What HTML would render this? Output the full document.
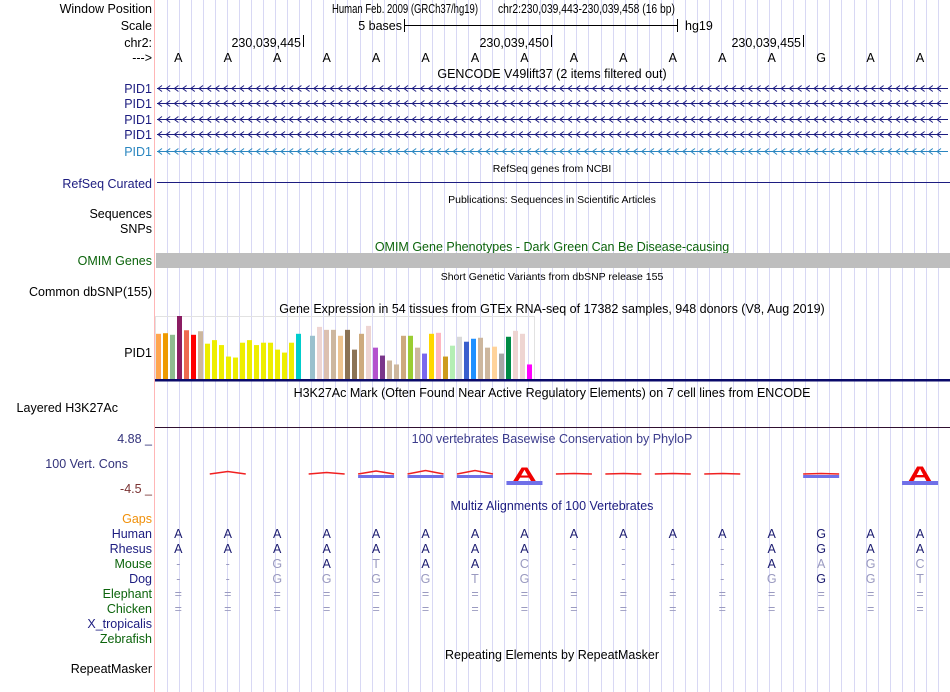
<!DOCTYPE html>
<html><head><meta charset="utf-8"><style>
html,body{margin:0;padding:0;background:#fff;}
svg{display:block;font-family:"Liberation Sans",Arial,sans-serif;}
</style></head><body>
<svg id="ucsc" width="950" height="692" viewBox="0 0 950 692">
<g id="grid"></g>
<line x1="154.5" y1="0" x2="154.5" y2="692" stroke="#ffb6b6" stroke-width="1"/>
<g font-size="12.5" text-anchor="end">
<text x="152" y="13" fill="#000">Window Position</text>
<text x="152" y="30" fill="#000">Scale</text>
<text x="152" y="47" fill="#000">chr2:</text>
<text x="152" y="62" fill="#000">---&gt;</text>
<text x="152" y="93" fill="#1c1c80">PID1</text>
<text x="152" y="108" fill="#1c1c80">PID1</text>
<text x="152" y="124" fill="#1c1c80">PID1</text>
<text x="152" y="139" fill="#1c1c80">PID1</text>
<text x="152" y="156" fill="#2a86c0">PID1</text>
<text x="152" y="188" fill="#1c1c80">RefSeq Curated</text>
<text x="152" y="218" fill="#000">Sequences</text>
<text x="152" y="233" fill="#000">SNPs</text>
<text x="152" y="265" fill="#0c640c">OMIM Genes</text>
<text x="152" y="296" fill="#000">Common dbSNP(155)</text>
<text x="152" y="357" fill="#000">PID1</text>
<text x="118" y="412" fill="#000">Layered H3K27Ac</text>
<text x="152" y="443" fill="#32327a">4.88 _</text>
<text x="128" y="468" fill="#32327a">100 Vert. Cons</text>
<text x="152" y="493" fill="#7a3232">-4.5 _</text>
<text x="152" y="523" fill="#f0900a">Gaps</text>
<text x="152" y="538" fill="#1c1c80">Human</text>
<text x="152" y="553" fill="#1c1c80">Rhesus</text>
<text x="152" y="568" fill="#0c640c">Mouse</text>
<text x="152" y="583" fill="#1c1c80">Dog</text>
<text x="152" y="598" fill="#0c640c">Elephant</text>
<text x="152" y="613" fill="#0c640c">Chicken</text>
<text x="152" y="628" fill="#1c1c80">X_tropicalis</text>
<text x="152" y="643" fill="#0c640c">Zebrafish</text>
<text x="152" y="673" fill="#000">RepeatMasker</text>
</g>
<g font-size="12.5" fill="#000">
<text x="332" y="13" font-size="12.5" textLength="146" lengthAdjust="spacingAndGlyphs">Human Feb. 2009 (GRCh37/hg19)</text>
<text x="498" y="13" font-size="12.5" textLength="177" lengthAdjust="spacingAndGlyphs">chr2:230,039,443-230,039,458 (16 bp)</text>
<text x="402" y="30" text-anchor="end">5 bases</text>
<line x1="404.5" y1="19" x2="404.5" y2="32" stroke="#000"/>
<line x1="404.5" y1="25.5" x2="677" y2="25.5" stroke="#000"/>
<line x1="677.5" y1="19" x2="677.5" y2="32" stroke="#000"/>
<text x="685" y="30">hg19</text>
<text x="301" y="47" text-anchor="end">230,039,445</text>
<line x1="303.5" y1="35" x2="303.5" y2="47" stroke="#000"/>
<text x="549" y="47" text-anchor="end">230,039,450</text>
<line x1="551.5" y1="35" x2="551.5" y2="47" stroke="#000"/>
<text x="801" y="47" text-anchor="end">230,039,455</text>
<line x1="803.5" y1="35" x2="803.5" y2="47" stroke="#000"/>
</g>
<g id="bases" font-size="12.5" text-anchor="middle"></g>
<g font-size="12.5" text-anchor="middle">
<text x="552" y="78" fill="#000">GENCODE V49lift37 (2 items filtered out)</text>
<text x="552" y="172" fill="#000" font-size="10.5">RefSeq genes from NCBI</text>
<text x="552" y="203" fill="#000" font-size="10.5">Publications: Sequences in Scientific Articles</text>
<text x="552" y="251" fill="#0c640c">OMIM Gene Phenotypes - Dark Green Can Be Disease-causing</text>
<text x="552" y="280" fill="#000" font-size="10.5">Short Genetic Variants from dbSNP release 155</text>
<text x="552" y="313" fill="#000">Gene Expression in 54 tissues from GTEx RNA-seq of 17382 samples, 948 donors (V8, Aug 2019)</text>
<text x="552" y="397" fill="#000">H3K27Ac Mark (Often Found Near Active Regulatory Elements) on 7 cell lines from ENCODE</text>
<text x="552" y="443" fill="#3c3c8c">100 vertebrates Basewise Conservation by PhyloP</text>
<text x="552" y="510" fill="#1c1c80">Multiz Alignments of 100 Vertebrates</text>
<text x="552" y="659" fill="#000">Repeating Elements by RepeatMasker</text>
</g>
<g id="genes"></g>
<line x1="157" y1="182.5" x2="950" y2="182.5" stroke="#1c1c80"/>
<rect x="156" y="253" width="794" height="15" fill="#bebebe"/>
<rect x="155.5" y="316.5" width="379" height="63" fill="none" stroke="#e2e2e2"/>
<g id="gtex"></g>
<rect x="155" y="379" width="795" height="2.5" fill="#0a0a6a"/>
<line x1="155" y1="427.5" x2="950" y2="427.5" stroke="#301030"/>
<g id="cons"></g>
<g id="multiz" font-size="12.5" text-anchor="middle"></g>
<script>
const NS='http://www.w3.org/2000/svg';
const refBases=['A','A','A','A','A','A','A','A','A','A','A','A','A','G','A','A'];
const species=['Human','Rhesus','Mouse','Dog','Elephant','Chicken'];
const rowY=[538,553,568,583,598,613];
const alignHuman ='AAAAAAAAAAAAAGAA';
const alignRhesus='AAAAAAAA----AGAA';
const alignMouse ='--GATAAC----AAGC';
const alignDog   ='--GGGGTG----GGGT';
const alignElephant='================';
const alignChicken='================';
const geneRowY=[88.5,103.5,119.5,134.5,151.5];
const geneColors=['#1c1c80','#1c1c80','#1c1c80','#1c1c80','#2a86c0'];
const gtexTissues=['Adipose-Subcutaneous','Adipose-Visceral','Adrenal','Artery-Aorta','Artery-Coronary','Artery-Tibial','Bladder','Brain-Amygdala','Brain-ACC','Brain-Caudate','Brain-Cerebellar','Brain-Cerebellum','Brain-Cortex','Brain-FrontalCortex','Brain-Hippocampus','Brain-Hypothalamus','Brain-NucleusAccumbens','Brain-Putamen','Brain-SpinalCord','Brain-SubstantiaNigra','Breast','Cells-EBV','Cells-Fibroblasts','Cervix-Ecto','Cervix-Endo','Colon-Sigmoid','Colon-Transverse','Esophagus-GEJ','Esophagus-Mucosa','Esophagus-Muscularis','FallopianTube','Heart-AtrialAppendage','Heart-LeftVentricle','Kidney-Cortex','Kidney-Medulla','Liver','Lung','MinorSalivaryGland','Muscle-Skeletal','Nerve-Tibial','Ovary','Pancreas','Pituitary','Prostate','Skin-NotSunExposed','Skin-SunExposed','SmallIntestine','Spleen','Stomach','Testis','Thyroid','Uterus','Vagina','WholeBlood'];
const gtexTpm=[45.7,46.3,44.7,63.7,49.3,44.7,48.3,35.7,39.3,34.3,22.7,21.7,36.7,39.3,34.3,36.7,36.7,29.7,26.7,36.7,45.7,0,43.7,52.7,49.7,49.7,43.7,49.7,29.7,45.7,53.7,31.7,23.7,18.7,14.7,43.7,43.7,31.7,25.7,45.7,46.7,22.7,33.7,42.7,37.7,40.7,41.7,31.7,32.7,25.7,42.7,48.7,45.7,14.7];
const gtexColors=['#FFA54F','#EE9A00','#8FBC8F','#8B1C62','#EE6A50','#FF0000','#CDB79E','#EEEE00','#EEEE00','#EEEE00','#EEEE00','#EEEE00','#EEEE00','#EEEE00','#EEEE00','#EEEE00','#EEEE00','#EEEE00','#EEEE00','#EEEE00','#00CDCD','#EE82EE','#9AC0CD','#EED5D2','#DCC0B0','#CDB79E','#EEC591','#8B7355','#8B7355','#CDAA7D','#EED5D2','#B452CD','#7A378B','#CDB79E','#CDB79E','#CDAA7D','#9ACD32','#CDB79E','#7A67EE','#FFD700','#FFB6C1','#CD9B1D','#B4EEB4','#D9D9D9','#3A5FCD','#1E90FF','#CDB79E','#CDB79E','#FFD39B','#A6A6A6','#008B45','#EED5D2','#EED5D2','#FF00FF'];
const phyloP=[0,0.5,0,0.3,0.6,0.7,0.7,2.2,0.1,0.1,0.1,0.1,0,0.1,0,2.4];
const phyloBlue=[0,0,0,0,1,1,1,1,0,0,0,0,0,1,0,1];

const basePx=i=>178.3+i*49.45;
const gtexX=i=>156+i*7;
const gtexMax=63.7, gtexH=63;
const gtexY=v=>379-v/gtexMax*gtexH;
const consScale=v=>v*5;

const grid=document.getElementById('grid');
for(let x=166.7;x<950;x+=12.05){
 const l=document.createElementNS(NS,'line');
 l.setAttribute('x1',Math.round(x)+0.5);l.setAttribute('x2',Math.round(x)+0.5);
 l.setAttribute('y1',0);l.setAttribute('y2',692);
 l.setAttribute('stroke','#d8d8f4');
 
 
 grid.appendChild(l);
}
const genes=document.getElementById('genes');
geneRowY.forEach((y,r)=>{
 let d=`M157 ${y} L948 ${y} `;
 for(let x=158;x<945;x+=8.2){d+=`M${(x+4).toFixed(1)} ${y-3} L${x.toFixed(1)} ${y} L${(x+4).toFixed(1)} ${y+3} `;}
 const p=document.createElementNS(NS,'path');
 p.setAttribute('d',d);p.setAttribute('fill','none');p.setAttribute('stroke',geneColors[r]);p.setAttribute('stroke-width',1);
 
 
 genes.appendChild(p);
});
const bg=document.getElementById('bases');
refBases.forEach((b,i)=>{
 const t=document.createElementNS(NS,'text');
 t.setAttribute('x',basePx(i));t.setAttribute('y',62);t.textContent=b;
 
 
 bg.appendChild(t);
});
const gg=document.getElementById('gtex');
gtexTpm.forEach((v,i)=>{
 if(v<=0)return;
 const r=document.createElementNS(NS,'rect');
 const y=gtexY(v);
 r.setAttribute('x',gtexX(i));r.setAttribute('y',y);
 r.setAttribute('width',5);r.setAttribute('height',379-y);
 r.setAttribute('fill',gtexColors[i]);
 
 
 gg.appendChild(r);
});
const cg=document.getElementById('cons');
phyloP.forEach((v,i)=>{
 if(v<=0)return;
 const x=basePx(i), h=consScale(v);
 const big=h>=9;
 const base=big?480:474;
 if(phyloBlue[i]){
  const b=document.createElementNS(NS,'rect');
  b.setAttribute('x',x-18);b.setAttribute('y',base+1);b.setAttribute('width',36);b.setAttribute('height',big?4:3);
  b.setAttribute('fill','#7070e8');
  
  
  cg.appendChild(b);
 }
 if(!big){
  const p=document.createElementNS(NS,'path');
  p.setAttribute('d',`M${x-18} ${base} L${x} ${base-h} L${x+18} ${base}`);
  p.setAttribute('fill','none');p.setAttribute('stroke','#f02020');p.setAttribute('stroke-width',1.5);
  
  
  cg.appendChild(p);
 } else {
  const t=document.createElementNS(NS,'text');
  t.setAttribute('x',0);t.setAttribute('y',0);
  t.setAttribute('font-size',14);t.setAttribute('font-weight','bold');t.setAttribute('fill','#f00000');
  t.setAttribute('text-anchor','middle');
  t.setAttribute('transform',`translate(${x},${base+1}) scale(2.4,${h/8})`);
  t.textContent=refBases[i];
  
  
  cg.appendChild(t);
 }
});
const mg=document.getElementById('multiz');
const rows=[alignHuman,alignRhesus,alignMouse,alignDog,alignElephant,alignChicken];
rows.forEach((s,r)=>{
 for(let i=0;i<16;i++){
  const c=s[i];
  const t=document.createElementNS(NS,'text');
  t.setAttribute('x',basePx(i));t.setAttribute('y',rowY[r]);
  const match=(c===refBases[i]);
  t.setAttribute('fill',match?'#1c1c70':'#9a9ac0');
  t.textContent=c;
  
  
  mg.appendChild(t);
 }
});
</script>
</svg>
</body></html>
